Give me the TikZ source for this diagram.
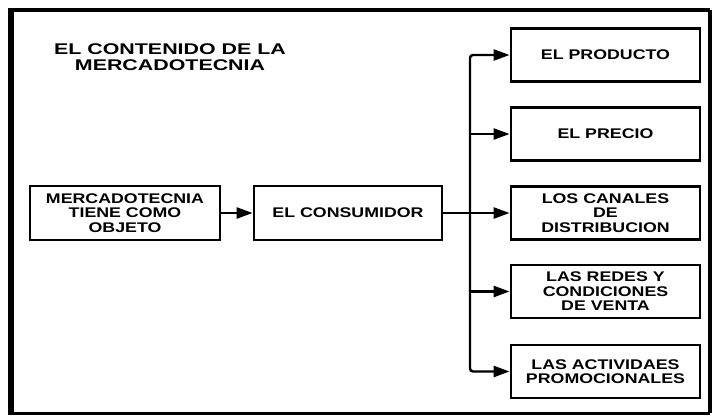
\documentclass[tikz,border=0pt]{standalone}
\usepackage{fontspec}
\setmainfont{Liberation Sans}
\newfontfamily\boxfont{Liberation Sans}[FakeStretch=1.27]
\newfontfamily\titlefont{Liberation Sans}[FakeStretch=1.38]
\usetikzlibrary{arrows.meta}
\begin{document}
\begin{tikzpicture}[x=1pt,y=-1pt,
  box/.style={draw=black, line width=2.8pt, minimum width=189pt, minimum height=53pt,
    inner sep=0pt, align=center, font=\boxfont\bfseries\fontsize{14}{14.5}\selectfont},
  conn/.style={draw=black, line width=2.4pt, -{Triangle[length=16pt,width=11pt]}},
  titlestyle/.style={align=center, inner sep=0pt, font=\titlefont\bfseries\fontsize{15.5}{16.5}\selectfont}]
\useasboundingbox[fill=white] (0,0) rectangle (716,416);
% frame
\draw[line width=4pt] (9,9.5) -- (709.5,9.5);
\draw[line width=4pt] (709.5,9.5) -- (709.5,413);
\draw[line width=3pt] (709.5,413) -- (11,413);
\draw[line width=6pt] (11,8) -- (11,414.5);
% title
\node[titlestyle] (title) at (170,57) {EL CONTENIDO DE LA\\MERCADOTECNIA};
% boxes
\node[box, minimum width=190pt, minimum height=54pt] (merc) at (125,213) {MERCADOTECNIA\\TIENE COMO\\OBJETO};
\node[box, minimum width=188pt, minimum height=54pt] (cons) at (348,213) {EL CONSUMIDOR};
\node[box] (prod) at (605.5,55) {EL PRODUCTO};
\node[box] (precio) at (605.5,134) {EL PRECIO};
\node[box] (canales) at (605.5,213) {LOS CANALES\\DE\\DISTRIBUCION};
\node[box] (redes) at (605.5,291.5) {LAS REDES Y\\CONDICIONES\\DE VENTA};
\node[box] (activ) at (605.5,371.5) {LAS ACTIVIDAES\\PROMOCIONALES};
% connectors
\coordinate (j) at (470,213);
\draw[conn] (merc.east) -- (cons.west);
\draw[conn] (cons.east) -- (canales.west);
\draw[conn, rounded corners=3pt] (j) |- (prod.west);
\draw[conn] (j |- precio.west) -- (precio.west);
\draw[conn] (j |- redes.west) -- (redes.west);
\draw[conn, rounded corners=3pt] (j) |- (activ.west);
\end{tikzpicture}
\end{document}
